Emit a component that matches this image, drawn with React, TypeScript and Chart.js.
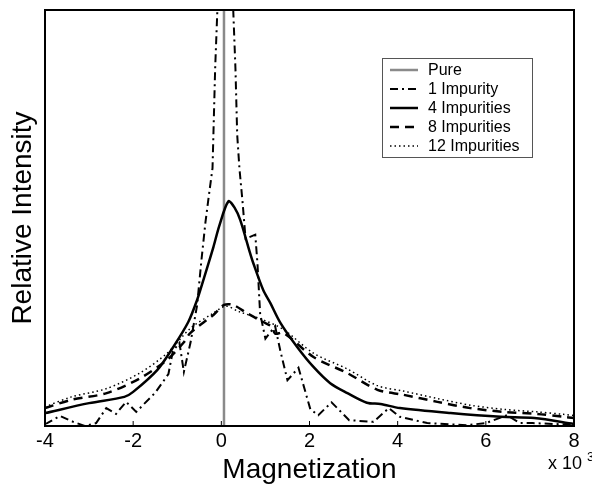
import React, { useEffect, useRef } from "react";
import { Chart, registerables } from "chart.js";

Chart.register(...registerables);

// Magnetization (x 10^3) values and relative intensity
const pureX = [0.06, 0.06];
const pureY = [0, 1.3];

const imp1X = [-4, -3.95, -3.66, -3.36, -3.1, -2.84, -2.61, -2.39, -2.16, -1.93, -1.5, -1.2, -1.1, -0.95, -0.85, -0.7, -0.55, -0.45, -0.36, -0.3, -0.2, -0.18, -0.14, -0.09, 0.09, 0.27, 0.32, 0.36, 0.41, 0.48, 0.55, 0.77, 0.82, 0.88, 1.0, 1.22, 1.34, 1.5, 1.75, 2.02, 2.2, 2.5, 2.9, 3.45, 3.8, 4.05, 4.67, 5.57, 6.0, 6.48, 6.77, 7.06, 8];
const imp1Y = [0.005, 0.007, 0.024, 0.01, 0.0, 0.007, 0.043, 0.029, 0.058, 0.034, 0.08, 0.125, 0.18, 0.2, 0.13, 0.2, 0.29, 0.4, 0.49, 0.54, 0.62, 0.7, 0.86, 1.0, 1.5, 1.0, 0.86, 0.7, 0.62, 0.54, 0.45, 0.46, 0.39, 0.27, 0.21, 0.24, 0.18, 0.11, 0.14, 0.04, 0.026, 0.057, 0.014, 0.01, 0.043, 0.022, 0.007, 0.002, 0.007, 0.026, 0.007, 0.007, 0.003];

const imp4X = [-4, -3, -2.2, -2.0, -1.45, -1.09, -0.75, -0.55, -0.41, -0.18, -0.05, 0.16, 0.3, 0.43, 0.64, 0.73, 0.95, 1.11, 1.34, 1.72, 2.09, 2.47, 2.86, 3.3, 3.61, 4.05, 5.2, 6.34, 7.1, 8];
const imp4Y = [0.031, 0.055, 0.07, 0.082, 0.135, 0.19, 0.25, 0.303, 0.35, 0.43, 0.48, 0.54, 0.525, 0.495, 0.42, 0.39, 0.327, 0.296, 0.248, 0.19, 0.142, 0.103, 0.079, 0.056, 0.053, 0.043, 0.031, 0.022, 0.019, 0.005];

const imp8X = [-4, -3.4, -2.6, -1.84, -1.23, -0.86, -0.7, -0.18, 0.06, 0.27, 0.6, 0.95, 1.15, 1.22, 1.41, 2.09, 2.86, 3.54, 4.13, 4.9, 5.65, 6.4, 7.16, 7.76, 8];
const imp8Y = [0.043, 0.063, 0.079, 0.115, 0.159, 0.2, 0.224, 0.267, 0.291, 0.291, 0.27, 0.25, 0.238, 0.222, 0.224, 0.166, 0.127, 0.087, 0.075, 0.058, 0.043, 0.034, 0.029, 0.022, 0.019];

const imp12X = [-4, -3.4, -2.6, -1.84, -1.23, -0.7, -0.2, 0.1, 0.4, 0.95, 1.41, 2.09, 2.86, 3.54, 4.13, 4.9, 5.65, 6.4, 7.16, 7.76, 8];
const imp12Y = [0.046, 0.07, 0.09, 0.128, 0.175, 0.235, 0.27, 0.288, 0.275, 0.255, 0.232, 0.175, 0.137, 0.097, 0.084, 0.066, 0.05, 0.04, 0.034, 0.028, 0.025];

const seriesNames = ["Pure", "1 Impurity", "4 Impurities", "8 Impurities", "12 Impurities"];
const xTicks = [-4, -2, 0, 2, 4, 6, 8];

const FONT = "'Liberation Sans', Arial, Helvetica, sans-serif";

const toPts = (xs: number[], ys: number[]) => xs.map((x, i) => ({ x, y: ys[i] }));

const styles = [
  { color: "#8a8a8a", width: 2.5, dash: [] as number[] },
  { color: "#000", width: 2, dash: [8, 4, 2, 4] },
  { color: "#000", width: 2.5, dash: [] as number[] },
  { color: "#000", width: 2.5, dash: [9, 6] },
  { color: "#000", width: 1.5, dash: [1.5, 3] },
];

const decorPlugin = {
  id: "decor",
  afterDraw(chart: any) {
    const { ctx, chartArea } = chart;
    const { left, right, top, bottom } = chartArea;
    const xs = chart.scales.x;
    ctx.save();
    // frame
    ctx.strokeStyle = "#000";
    ctx.lineWidth = 2;
    ctx.setLineDash([]);
    ctx.strokeRect(left, top, right - left, bottom - top);
    // inward ticks
    ctx.lineWidth = 1;
    xTicks.forEach((v) => {
      const px = xs.getPixelForValue(v);
      ctx.beginPath();
      ctx.moveTo(px, bottom);
      ctx.lineTo(px, bottom - 5);
      ctx.stroke();
    });
    // x title
    ctx.fillStyle = "#000";
    ctx.font = `28px ${FONT}`;
    ctx.textAlign = "center";
    ctx.textBaseline = "alphabetic";
    ctx.fillText("Magnetization", (left + right) / 2, 478);
    // multiplier
    ctx.font = `18px ${FONT}`;
    ctx.textAlign = "left";
    ctx.fillText("x 10", 548, 469);
    ctx.font = `13px ${FONT}`;
    ctx.fillText("3", 587, 461);
    // y title
    ctx.save();
    ctx.translate(31, (top + bottom) / 2);
    ctx.rotate(-Math.PI / 2);
    ctx.font = `28px ${FONT}`;
    ctx.textAlign = "center";
    ctx.fillText("Relative Intensity", 0, 0);
    ctx.restore();
    // legend
    const bx = 382, by = 58, bw = 150, bh = 99;
    ctx.fillStyle = "#fff";
    ctx.fillRect(bx, by, bw, bh);
    ctx.strokeStyle = "#555";
    ctx.lineWidth = 1;
    ctx.strokeRect(bx + 0.5, by + 0.5, bw, bh);
    ctx.font = `16px ${FONT}`;
    ctx.textBaseline = "middle";
    ctx.textAlign = "left";
    seriesNames.forEach((name, i) => {
      const y = 70 + i * 19;
      const st = styles[i];
      ctx.strokeStyle = st.color;
      ctx.lineWidth = st.width;
      ctx.setLineDash(st.dash);
      ctx.beginPath();
      ctx.moveTo(390, y);
      ctx.lineTo(418, y);
      ctx.stroke();
      ctx.setLineDash([]);
      ctx.fillStyle = "#000";
      ctx.fillText(name, 428, y + 1);
    });
    ctx.restore();
  },
};

export default function App() {
  const ref = useRef<HTMLCanvasElement | null>(null);
  useEffect(() => {
    document.body.style.margin = "0";
    if (!ref.current) return;
    const data = [
      toPts(pureX, pureY),
      toPts(imp1X, imp1Y),
      toPts(imp4X, imp4Y),
      toPts(imp8X, imp8Y),
      toPts(imp12X, imp12Y),
    ];
    const chart = new Chart(ref.current, {
      type: "line",
      data: {
        datasets: data.map((d, i) => ({
          label: seriesNames[i],
          data: d,
          borderColor: styles[i].color,
          borderWidth: styles[i].width,
          borderDash: styles[i].dash,
          pointRadius: 0,
          fill: false,
          tension: i === 0 || i === 1 ? 0 : 0.3,
          order: 5 - i,
        })),
      },
      options: {
        animation: false,
        responsive: true,
        maintainAspectRatio: false,
        parsing: false as any,
        layout: { padding: { left: 45, right: 18, top: 10, bottom: 23 } },
        plugins: { legend: { display: false }, tooltip: { enabled: false } },
        scales: {
          x: {
            type: "linear",
            min: -4,
            max: 8,
            afterBuildTicks: (s: any) => {
              s.ticks = xTicks.map((v) => ({ value: v }));
            },
            afterFit: (s: any) => {
              s.height = 40;
            },
            grid: { display: false, drawTicks: false },
            border: { display: false },
            ticks: {
              padding: 3,
              color: "#000",
              font: { family: FONT, size: 20 },
              maxRotation: 0,
              autoSkip: false,
            },
          },
          y: {
            type: "linear",
            min: 0,
            max: 1,
            afterFit: (s: any) => {
              s.width = 0;
            },
            grid: { display: false, drawTicks: false },
            border: { display: false },
            ticks: { display: false },
          },
        },
      },
      plugins: [decorPlugin],
    });
    return () => chart.destroy();
  }, []);
  return (
    <div style={{ position: "fixed", left: 0, top: 0, width: 592, height: 489, background: "#fff" }}>
      <canvas ref={ref} />
    </div>
  );
}
